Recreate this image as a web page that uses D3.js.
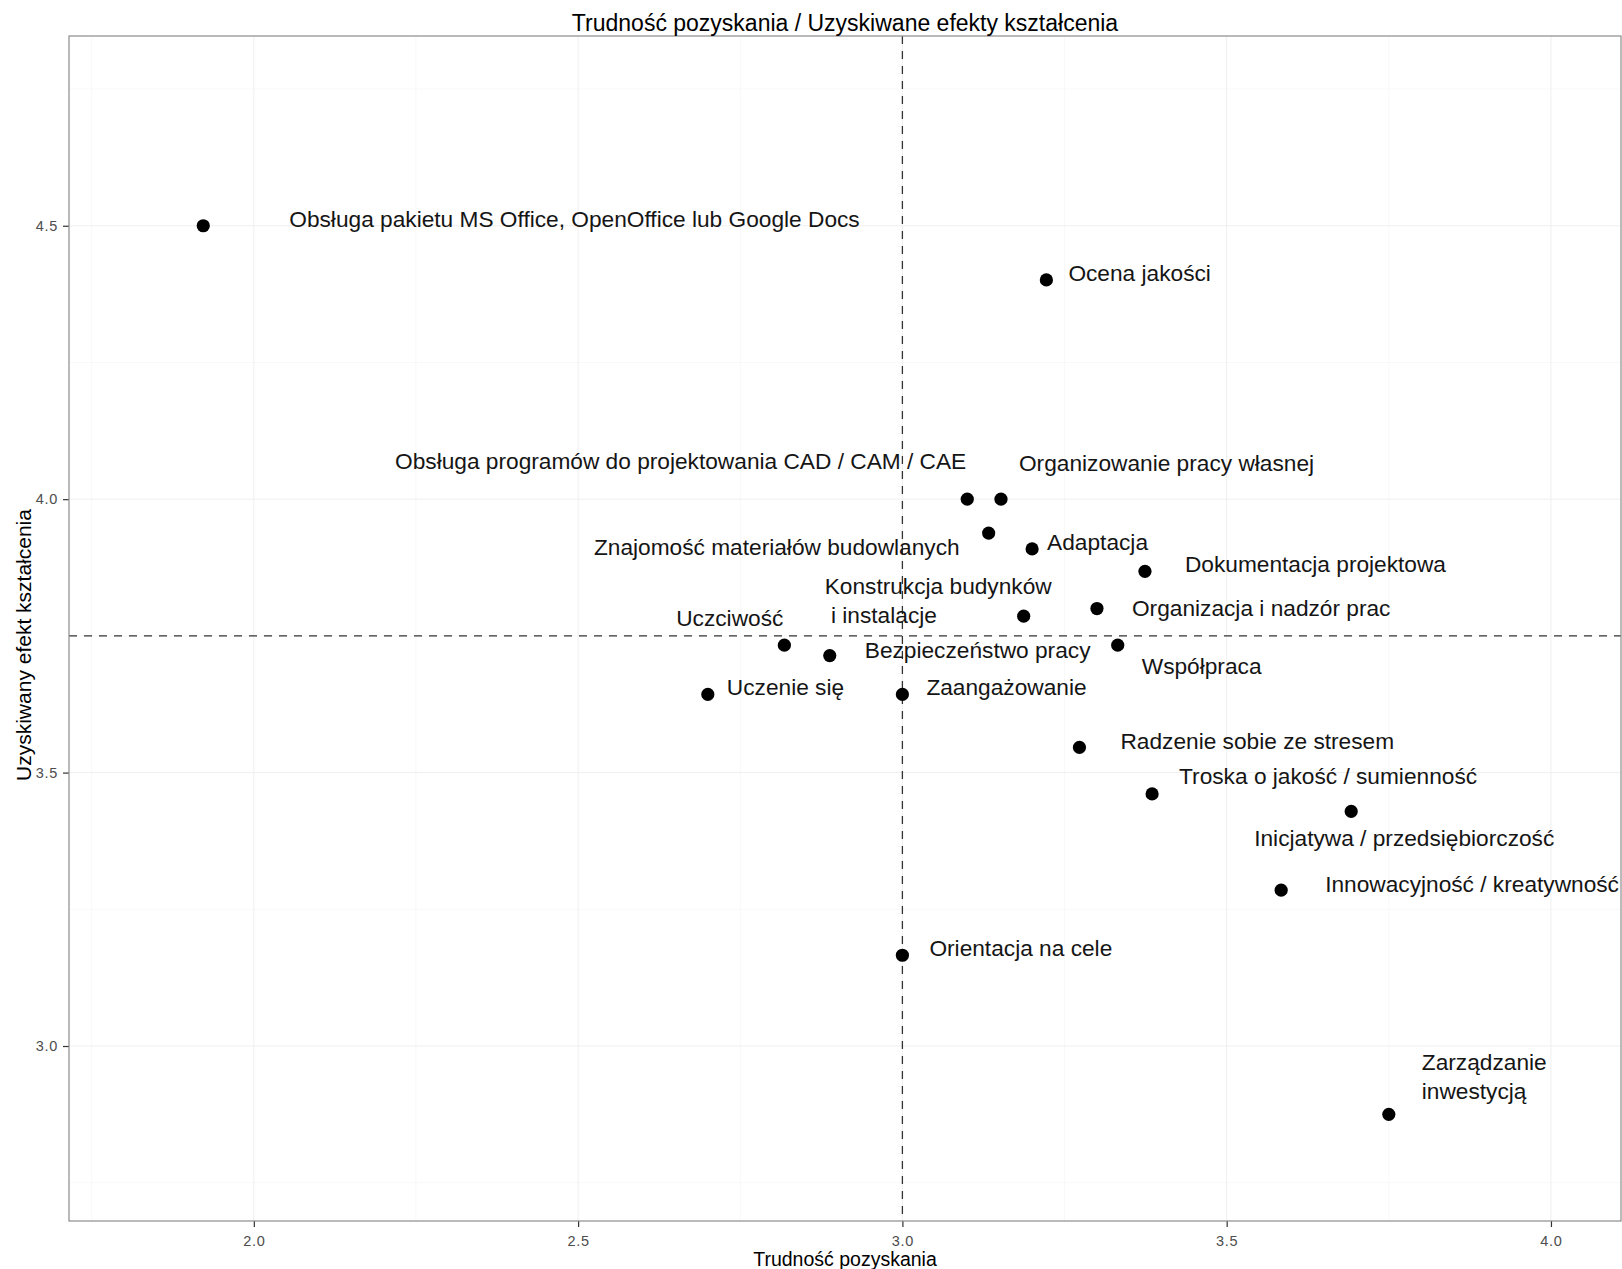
<!DOCTYPE html>
<html><head><meta charset="utf-8">
<script src="https://cdn.jsdelivr.net/npm/d3@7"></script>
<style>
html,body{margin:0;padding:0;background:#fff;}
text{font-family:"Liberation Sans",Arial,Helvetica,sans-serif;}
</style></head>
<body>
<svg id="chart" width="1622" height="1269"></svg>
<script>
// ---- data ----
const labels = [
  "Obsługa pakietu MS Office, OpenOffice lub Google Docs",
  "Ocena jakości",
  "Obsługa programów do projektowania CAD / CAM / CAE",
  "Organizowanie pracy własnej",
  "Znajomość materiałów budowlanych",
  "Adaptacja",
  "Dokumentacja projektowa",
  "Konstrukcja budynków\n i instalacje",
  "Organizacja i nadzór prac",
  "Uczciwość",
  "Bezpieczeństwo pracy",
  "Współpraca",
  "Uczenie się",
  "Zaangażowanie",
  "Radzenie sobie ze stresem",
  "Troska o jakość / sumienność",
  "Inicjatywa / przedsiębiorczość",
  "Innowacyjność / kreatywność",
  "Orientacja na cele",
  "Zarządzanie\ninwestycją"
];
const difficulty = [1.922, 3.222, 3.100, 3.152, 3.133, 3.200, 3.374, 3.187, 3.300, 2.818,
                    2.888, 3.332, 2.700, 3.000, 3.273, 3.385, 3.692, 3.584, 3.000, 3.750];
const effect     = [4.500, 4.401, 4.000, 4.000, 3.938, 3.909, 3.868, 3.786, 3.800, 3.733,
                    3.714, 3.733, 3.643, 3.643, 3.546, 3.461, 3.429, 3.285, 3.166, 2.875];
const xTicks = [2.0, 2.5, 3.0, 3.5, 4.0];
const yTicks = [3.0, 3.5, 4.0, 4.5];
const xMinor = [1.75, 2.25, 2.75, 3.25, 3.75];
const yMinor = [2.75, 3.25, 3.75, 4.25, 4.75];
const xRef = 3.0, yRef = 3.75;
const title = "Trudność pozyskania / Uzyskiwane efekty kształcenia";
const xTitle = "Trudność pozyskania";
const yTitle = "Uzyskiwany efekt kształcenia";

// ---- layout (label placement offsets in px, anchor) ----
const labelLayout = [
  [86,-7,"start"],[22,-7,"start"],[-1,-38,"end"],[18,-36,"start"],[-29,14,"end"],
  [15,-7,"start"],[40,-7,"start"],[-199,-30,"start"],[35,0,"start"],[-1,-27,"end"],
  [35,-6,"start"],[24,21,"start"],[19,-7,"start"],[24,-7,"start"],[41,-6,"start"],
  [27,-18,"start"],[-97,27,"start"],[44,-6,"start"],[27,-7,"start"],[33,-52,"start"]
];

const svg = d3.select("#chart");
const L = 69, R = 1621, T = 36, B = 1221;
const x = d3.scaleLinear().domain([1.715, 4.108]).range([L, R]);
const y = d3.scaleLinear().domain([2.680, 4.847]).range([B, T]);

svg.append("rect").attr("width",1622).attr("height",1269).attr("fill","#fff");

const g = svg.append("g");
// minor grid
g.selectAll(".vmin").data(xMinor).enter().append("line")
  .attr("x1",d=>x(d)).attr("x2",d=>x(d)).attr("y1",T).attr("y2",B)
  .attr("stroke","#f8f8f8").attr("stroke-width",1);
g.selectAll(".hmin").data(yMinor).enter().append("line")
  .attr("y1",d=>y(d)).attr("y2",d=>y(d)).attr("x1",L).attr("x2",R)
  .attr("stroke","#f8f8f8").attr("stroke-width",1);
// major grid
g.selectAll(".vmaj").data(xTicks).enter().append("line")
  .attr("x1",d=>x(d)).attr("x2",d=>x(d)).attr("y1",T).attr("y2",B)
  .attr("stroke","#efefef").attr("stroke-width",1);
g.selectAll(".hmaj").data(yTicks).enter().append("line")
  .attr("y1",d=>y(d)).attr("y2",d=>y(d)).attr("x1",L).attr("x2",R)
  .attr("stroke","#efefef").attr("stroke-width",1);

// reference lines
g.append("line").attr("x1",x(xRef)).attr("x2",x(xRef)).attr("y1",T).attr("y2",B)
  .attr("stroke","#333").attr("stroke-width",1.3).attr("stroke-dasharray","8,7");
g.append("line").attr("x1",L).attr("x2",R).attr("y1",y(yRef)).attr("y2",y(yRef))
  .attr("stroke","#333").attr("stroke-width",1.3).attr("stroke-dasharray","8,7");

// points
const idx = d3.range(labels.length);
g.selectAll("circle.pt").data(idx).enter().append("circle")
  .attr("cx",i=>x(difficulty[i])).attr("cy",i=>y(effect[i])).attr("r",6.6).attr("fill","#000");

// labels
const lt = g.selectAll("text.lbl").data(idx).enter().append("text")
  .attr("font-size",22.7).attr("fill","#151515")
  .attr("text-anchor",i=>labelLayout[i][2])
  .attr("y",i=>y(effect[i])+labelLayout[i][1])
  .attr("xml:space","preserve");
lt.each(function(i){
  const parts = labels[i].split("\n");
  const t = d3.select(this);
  const x0 = x(difficulty[i])+labelLayout[i][0];
  parts.forEach((p,k)=>{
    t.append("tspan").attr("x",x0).attr("dy",k===0?"0.35em":"1.27em")
      .attr("xml:space","preserve").text(p);
  });
});

// axes
const xAxis = d3.axisBottom(x).tickValues(xTicks).tickFormat(d3.format(".1f")).tickSize(6).tickPadding(6).tickSizeOuter(0);
const yAxis = d3.axisLeft(y).tickValues(yTicks).tickFormat(d3.format(".1f")).tickSize(6).tickPadding(5).tickSizeOuter(0);
const gx = svg.append("g").attr("transform",`translate(0,${B})`).call(xAxis);
const gy = svg.append("g").attr("transform",`translate(${L},0)`).call(yAxis);
[gx,gy].forEach(a=>{
  a.select(".domain").remove();
  a.selectAll(".tick line").attr("stroke","#333").attr("stroke-width",1.2);
  a.selectAll(".tick text").attr("font-size",14.5).attr("fill","#4d4d4d")
    .attr("letter-spacing","0.7px")
    .attr("font-family","Liberation Sans, Arial, sans-serif");
});
gx.selectAll(".tick text").attr("y",25).attr("dy","0");

// panel border
svg.append("rect").attr("x",L).attr("y",T).attr("width",R-L).attr("height",B-T)
  .attr("fill","none").attr("stroke","#8c8c8c").attr("stroke-width",1.2);

// titles
svg.append("text").attr("x",(L+R)/2).attr("y",23).attr("dy","0.35em")
  .attr("text-anchor","middle").attr("font-size",23).attr("fill","#000").text(title);
svg.append("text").attr("x",(L+R)/2).attr("y",1259).attr("dy","0.35em")
  .attr("text-anchor","middle").attr("font-size",19.5).attr("fill","#000").text(xTitle);
svg.append("text").attr("transform",`translate(24,645) rotate(-90)`).attr("dy","0.35em")
  .attr("text-anchor","middle").attr("font-size",21).attr("fill","#000").text(yTitle);
</script>
</body></html>
